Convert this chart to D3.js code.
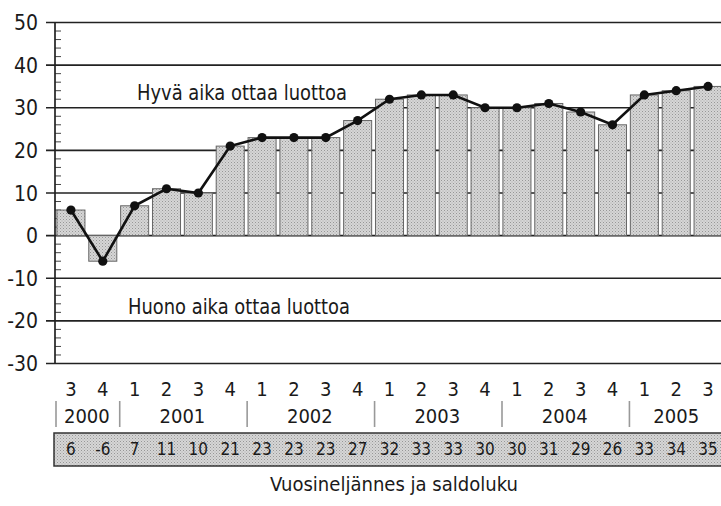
<!DOCTYPE html>
<html>
<head>
<meta charset="utf-8">
<script src="https://cdn.jsdelivr.net/npm/d3@7"></script>
<style>
  html, body { margin: 0; padding: 0; background: #fff; }
  svg { display: block; }
  text { font-family: "Liberation Sans Narrow", "DejaVu Sans Condensed", "Arial Narrow", sans-serif; fill: #1a1a1a; }
</style>
</head>
<body>
<svg id="chart" width="721" height="506"></svg>
<script>
// Saldoluku per quarter, 2000 Q3 – 2005 Q3
const quarters = ["3","4","1","2","3","4","1","2","3","4","1","2","3","4","1","2","3","4","1","2","3"];
const values   = [6, -6, 7, 11, 10, 21, 23, 23, 23, 27, 32, 33, 33, 30, 30, 31, 29, 26, 33, 34, 35];
const years        = ["2000","2001","2002","2003","2004","2005"];
const yearQuarters = [2, 4, 4, 4, 4, 3];
const yTicks = [50, 40, 30, 20, 10, 0, -10, -20, -30];
const goodLabel = "Hyvä aika ottaa luottoa";
const badLabel  = "Huono aika ottaa luottoa";
const axisTitle = "Vuosineljännes ja saldoluku";

const svg = d3.select("#chart");
const W = 721;
const left = 55;

const ids = d3.range(values.length);
const x = d3.scaleBand().domain(ids).range([left, 724]).paddingInner(0.12).paddingOuter(0.06);
const y = d3.scaleLinear().domain([-30, 50]).range([363.5, 22.5]);

// stippled grey fill used for bars and the value strip
const defs = svg.append("defs");
const pat = defs.append("pattern").attr("id", "stipple")
  .attr("width", 3).attr("height", 3).attr("patternUnits", "userSpaceOnUse");
pat.append("rect").attr("width", 3).attr("height", 3).attr("fill", "#d6d6d6");
pat.append("rect").attr("x", 0).attr("y", 0).attr("width", 1).attr("height", 1).attr("fill", "#979797");
pat.append("rect").attr("x", 1.5).attr("y", 1.5).attr("width", 1).attr("height", 1).attr("fill", "#adadad");

// minor ticks every 2 units on the inside of the axis
const minor = d3.range(-30, 51, 2).filter(v => v % 10 !== 0);
svg.append("g").selectAll("line").data(minor).join("line")
  .attr("x1", left).attr("x2", left + 6)
  .attr("y1", d => y(d)).attr("y2", d => y(d))
  .attr("stroke", "#444").attr("stroke-width", 1);

// major grid lines
svg.append("g").selectAll("line").data(yTicks).join("line")
  .attr("x1", 46).attr("x2", W)
  .attr("y1", d => y(d)).attr("y2", d => y(d))
  .attr("stroke", "#222").attr("stroke-width", 1.7);

// y tick labels
svg.append("g").selectAll("text").data(yTicks).join("text")
  .attr("x", 38).attr("y", d => y(d)).attr("dy", "0.36em")
  .attr("text-anchor", "end").attr("font-size", 21)
  .text(d => d);

// left axis line
svg.append("line").attr("x1", left).attr("x2", left)
  .attr("y1", y(50)).attr("y2", y(-30))
  .attr("stroke", "#222").attr("stroke-width", 1.7);

// bars
svg.append("g").selectAll("rect").data(ids).join("rect")
  .attr("x", i => x(i)).attr("width", x.bandwidth())
  .attr("y", i => y(Math.max(0, values[i])))
  .attr("height", i => Math.abs(y(values[i]) - y(0)))
  .attr("fill", "url(#stipple)").attr("stroke", "#666").attr("stroke-width", 1);

// region labels
svg.append("text").attr("x", 137).attr("y", 100).attr("font-size", 21)
  .attr("textLength", 210).attr("lengthAdjust", "spacingAndGlyphs").text(goodLabel);
svg.append("text").attr("x", 128).attr("y", 314).attr("font-size", 21)
  .attr("textLength", 222).attr("lengthAdjust", "spacingAndGlyphs").text(badLabel);

// line with markers
const cx = i => x(i) + x.bandwidth() / 2;
svg.append("path").datum(ids)
  .attr("d", d3.line().x(cx).y(i => y(values[i])))
  .attr("fill", "none").attr("stroke", "#111").attr("stroke-width", 2.6);
svg.append("g").selectAll("circle").data(ids).join("circle")
  .attr("cx", cx).attr("cy", i => y(values[i])).attr("r", 4.6)
  .attr("fill", "#111");

// quarter labels
svg.append("g").selectAll("text").data(ids).join("text")
  .attr("x", cx).attr("y", 396).attr("text-anchor", "middle").attr("font-size", 20)
  .text(i => quarters[i]);

// year labels and separators
let start = 0;
const yearSpans = years.map((yr, k) => {
  const s = { year: yr, from: start, to: start + yearQuarters[k] - 1 };
  start += yearQuarters[k];
  return s;
});
const step = x.step();
const edgeLeft = i => x(i) - (step - x.bandwidth()) / 2;
svg.append("g").selectAll("line").data(yearSpans).join("line")
  .attr("x1", d => edgeLeft(d.from) + 1).attr("x2", d => edgeLeft(d.from) + 1)
  .attr("y1", 401).attr("y2", 427)
  .attr("stroke", "#999").attr("stroke-width", 1.6);
svg.append("g").selectAll("text").data(yearSpans).join("text")
  .attr("x", d => (cx(d.from) + cx(d.to)) / 2).attr("y", 423)
  .attr("text-anchor", "middle").attr("font-size", 20)
  .text(d => d.year);

// value strip
svg.append("rect").attr("x", 54).attr("y", 433).attr("width", W - 54 + 2).attr("height", 33)
  .attr("fill", "url(#stipple)").attr("stroke", "#333").attr("stroke-width", 1.5);
svg.append("g").selectAll("text").data(ids).join("text")
  .attr("x", cx).attr("y", 455).attr("text-anchor", "middle").attr("font-size", 17)
  .text(i => values[i]);

// x-axis title
svg.append("text").attr("x", 394).attr("y", 491).attr("text-anchor", "middle")
  .attr("font-size", 20).attr("textLength", 248).attr("lengthAdjust", "spacingAndGlyphs")
  .text(axisTitle);
</script>
</body>
</html>
